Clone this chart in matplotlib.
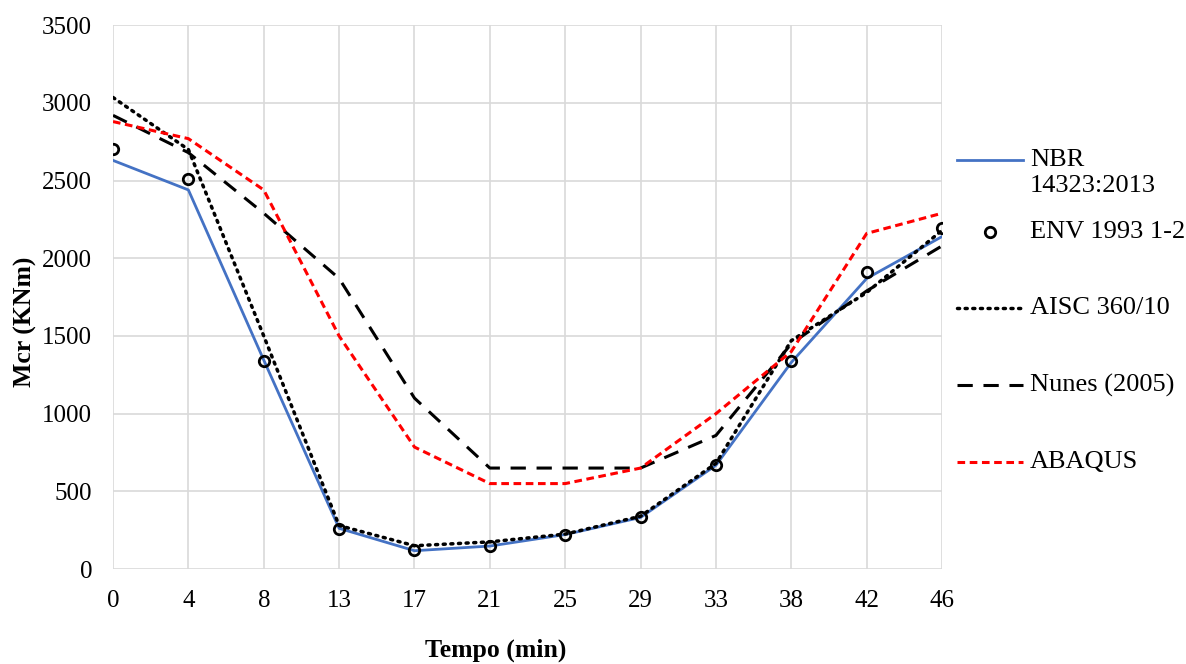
import matplotlib.pyplot as plt
from matplotlib.lines import Line2D
import numpy as np

plt.rcParams['font.family'] = ['Liberation Serif', 'DejaVu Serif']

tempo = ['0', '4', '8', '13', '17', '21', '25', '29', '33', '38', '42', '46']
nbr = [2630, 2440, 1345, 262, 118, 148, 222, 332, 668, 1330, 1870, 2140]
env = [2705, 2510, 1340, 260, 120, 150, 220, 335, 670, 1338, 1915, 2195]
aisc = [3035, 2700, 1500, 280, 150, 175, 225, 340, 680, 1470, 1780, 2180]
nunes = [2920, 2680, 2290, 1870, 1100, 650, 650, 650, 860, 1450, 1790, 2080]
abaqus = [2880, 2770, 2440, 1500, 785, 550, 550, 650, 1000, 1400, 2160, 2290]

x = np.arange(len(tempo))

W, H = 1186, 664
fig = plt.figure(figsize=(W / 100, H / 100), dpi=100)
ax = fig.add_axes([0.0953, 0.143, 0.699, 0.819])

styles = [
    dict(color='#4472c4', lw=2.0),
    dict(ls='none', marker='o', ms=7.5, mfc='none', mec='black', mew=2.0),
    dict(color='black', lw=2.5, ls=(0, (0.6, 1.6)), dash_capstyle='round'),
    dict(color='black', lw=2.2, ls=(0, (5, 3.5))),
    dict(color='red', lw=2.2, ls=(0, (2.5, 1.5))),
]
labels = ['NBR\n14323:2013', 'ENV 1993 1-2', 'AISC 360/10', 'Nunes (2005)', 'ABAQUS']
series = [nbr, env, aisc, nunes, abaqus]

for y, st in zip(series, styles):
    ax.plot(x, y, **st)

ax.set_xlim(0, len(tempo) - 1)
ax.set_ylim(0, 3500)
ax.set_xticks(x)
ax.set_xticklabels(tempo)
ax.set_yticks(np.arange(0, 3501, 500))
ax.grid(True, color='#d9d9d9', lw=1.2)
ax.set_axisbelow(True)
for s in ax.spines.values():
    s.set_visible(False)
ax.tick_params(length=0, labelsize=18)
ax.tick_params(axis='x', pad=15)
ax.tick_params(axis='y', pad=15)
ax.set_xlabel('Tempo (min)', fontsize=18.5, fontweight='bold')
ax.set_ylabel('Mcr (KNm)', fontsize=18.5, fontweight='bold')
ax.xaxis.set_label_coords(0.462, -0.127)
ax.yaxis.set_label_coords(-0.092, 0.454)

# legend drawn by hand so the slots are evenly spaced like the original
legend_y = [160, 232, 308, 385, 462]
for lab, st, py in zip(labels, styles, legend_y):
    fy = 1 - py / H
    if st.get('marker'):
        fig.add_artist(Line2D([990 / W], [fy], **st))
    else:
        fig.add_artist(Line2D([957 / W, 1023 / W], [fy, fy], **st))
    if '\n' in lab:
        fy = 1 - (py + 13) / H
    fig.text(1030 / W, fy, lab, fontsize=19, va='center', ha='left', linespacing=1.2)

fig.savefig('out.png', dpi=100)
